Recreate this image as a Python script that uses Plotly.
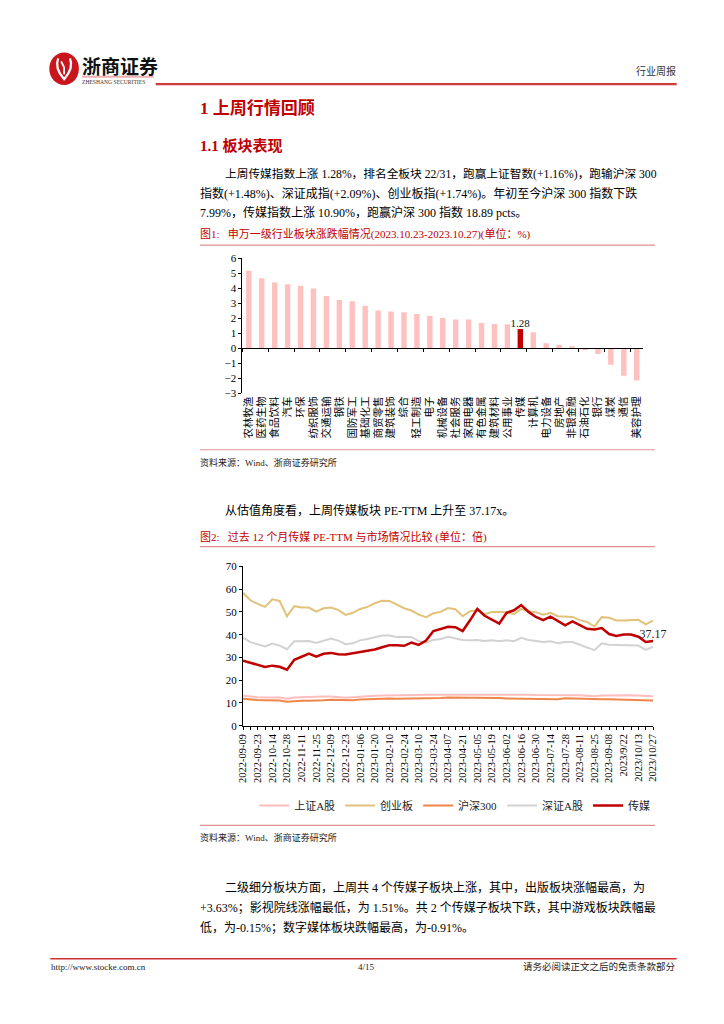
import plotly.graph_objects as go

W, H = 724, 1024
SERIF = "Liberation Serif, Noto Sans CJK SC"
CJK = "Noto Sans CJK SC"
RED = "#C00000"

# ---------------- Figure 1 data: SW level-1 industries weekly change (%) ----------------
industries = ["农林牧渔", "医药生物", "食品饮料", "汽车", "环保", "纺织服饰", "交通运输", "钢铁",
              "国防军工", "基础化工", "商贸零售", "建筑装饰", "综合", "轻工制造", "电子", "机械设备",
              "社会服务", "家用电器", "有色金属", "建筑材料", "公用事业", "传媒", "计算机", "电力设备",
              "房地产", "非银金融", "石油石化", "银行", "煤炭", "通信", "美容护理"]
changes = [5.15, 4.65, 4.37, 4.26, 4.15, 3.97, 3.47, 3.21, 3.12, 2.82, 2.51, 2.45, 2.40, 2.27,
           2.14, 2.01, 1.92, 1.92, 1.68, 1.62, 1.59, 1.28, 1.07, 0.33, 0.24, 0.13, -0.13, -0.38,
           -1.10, -1.83, -2.15]
highlight = "传媒"
bar_ticks = [-3, -2, -1, 0, 1, 2, 3, 4, 5, 6]

# ---------------- Figure 2 data: PE-TTM weekly ----------------
week_dates = ["2022-09-09", "2022-09-16", "2022-09-23", "2022-09-30", "2022-10-14", "2022-10-21",
              "2022-10-28", "2022-11-04", "2022-11-11", "2022-11-18", "2022-11-25", "2022-12-02",
              "2022-12-09", "2022-12-16", "2022-12-23", "2022-12-30", "2023-01-06", "2023-01-13",
              "2023-01-20", "2023-02-03", "2023-02-10", "2023-02-17", "2023-02-24", "2023-03-03",
              "2023-03-10", "2023-03-17", "2023-03-24", "2023-03-31", "2023-04-07", "2023-04-14",
              "2023-04-21", "2023-04-28", "2023-05-05", "2023-05-12", "2023-05-19", "2023-05-26",
              "2023-06-02", "2023-06-09", "2023-06-16", "2023-06-21", "2023-06-30", "2023-07-07",
              "2023-07-14", "2023-07-21", "2023-07-28", "2023-08-04", "2023-08-11", "2023-08-18",
              "2023-08-25", "2023-09-01", "2023-09-08", "2023-09-15", "2023/9/22", "2023/9/28",
              "2023/10/13", "2023/10/20", "2023/10/27"]
series_names = ["上证A股", "创业板", "沪深300", "深证A股", "传媒"]
pe_sh_a = [13.2, 12.8, 12.5, 12.4, 12.5, 12.4, 11.9, 12.4, 12.5, 12.5,
           12.6, 12.8, 12.9, 12.6, 12.3, 12.5, 12.8, 13.0, 13.2, 13.3,
           13.3, 13.2, 13.2, 13.4, 13.5, 13.6, 13.6, 13.7, 13.8, 13.8,
           13.8, 13.8, 13.9, 13.8, 13.7, 13.8, 13.6, 13.6, 13.7, 13.6,
           13.5, 13.5, 13.6, 13.3, 13.6, 13.6, 13.4, 13.2, 13.0, 13.3,
           13.4, 13.4, 13.5, 13.4, 13.3, 13.0, 13.0]
pe_cyb = [58.4, 55.1, 53.5, 52.2, 55.5, 54.8, 48.1, 52.5, 51.9, 51.9,
          50.1, 51.6, 51.9, 50.9, 48.7, 49.6, 51.3, 52.2, 53.8, 54.9,
          54.8, 53.3, 51.6, 50.6, 48.8, 47.7, 49.4, 50.0, 51.7, 51.2,
          48.1, 50.3, 50.7, 49.0, 50.0, 50.0, 49.9, 49.0, 51.3, 50.3,
          49.9, 48.8, 49.6, 48.1, 47.8, 47.8, 46.4, 45.6, 43.6, 47.7,
          47.4, 46.2, 46.2, 46.4, 46.5, 44.5, 46.2]
pe_hs300 = [11.9, 11.5, 11.3, 11.2, 11.2, 11.1, 10.5, 10.9, 11.0, 11.0,
            11.0, 11.2, 11.4, 11.3, 11.1, 11.2, 11.5, 11.7, 11.9, 12.0,
            12.0, 11.9, 11.9, 12.0, 12.1, 12.1, 12.1, 12.2, 12.4, 12.4,
            12.4, 12.4, 12.4, 12.3, 12.2, 12.2, 12.0, 12.0, 12.0, 12.0,
            11.9, 11.8, 11.9, 11.7, 12.1, 12.0, 11.8, 11.6, 11.4, 11.6,
            11.6, 11.5, 11.6, 11.5, 11.4, 11.1, 11.1]
pe_sz_a = [38.7, 36.7, 35.8, 34.8, 36.1, 35.2, 33.6, 37.1, 37.1, 37.2,
           36.4, 37.4, 38.3, 37.4, 35.8, 36.2, 37.5, 38.1, 39.0, 39.6,
           39.6, 39.0, 39.0, 39.0, 37.2, 36.5, 37.7, 38.1, 39.1, 38.4,
           37.7, 37.5, 37.7, 37.2, 37.5, 37.1, 37.5, 37.1, 38.6, 37.7,
           37.2, 36.8, 37.1, 36.2, 36.8, 36.8, 35.6, 34.5, 33.2, 36.2,
           35.6, 35.5, 35.5, 35.5, 35.2, 33.3, 34.7]
pe_media = [28.6, 27.7, 26.7, 25.8, 26.4, 25.9, 24.6, 29.0, 30.3, 31.7,
            30.3, 31.6, 32.0, 31.4, 31.3, 31.9, 32.6, 33.0, 33.5, 34.5,
            35.4, 35.4, 35.1, 36.5, 35.5, 37.4, 41.6, 42.5, 43.5, 43.3,
            41.6, 46.3, 51.3, 48.3, 46.7, 44.9, 49.6, 50.7, 53.0, 50.0,
            47.8, 46.4, 47.9, 46.1, 44.1, 45.8, 44.3, 42.6, 42.3, 42.9,
            40.3, 39.4, 40.1, 40.1, 39.1, 36.8, 37.17]
series_colors = ["#FFBDBD", "#E2C27A", "#F0854A", "#D2D2D2", "#C00000"]
series_widths = [2, 2, 2, 2, 2.5]
pe_ticks = [0, 10, 20, 30, 40, 50, 60, 70]


def px(x):
    return x / W


def py(y):
    return 1 - y / H


fig = go.Figure()

# ---- bar chart ----
bar_colors = [RED if c == highlight else "#FFC0C0" for c in industries]
bar_text = [f"{v:.2f}" if c == highlight else "" for c, v in zip(industries, changes)]
fig.add_trace(go.Bar(
    x=industries, y=changes, marker=dict(color=bar_colors, line=dict(width=0)),
    text=bar_text, textposition="outside", constraintext="none", cliponaxis=False,
    textfont=dict(family=SERIF, size=11, color="#111"),
    xaxis="x", yaxis="y", showlegend=False, hoverinfo="skip"))
# helper trace so the zero-line category axis (ticks between bars) is drawn
fig.add_trace(go.Scatter(
    x=industries, y=changes, mode="markers", marker=dict(opacity=0, size=1),
    xaxis="x2", yaxis="y", showlegend=False, hoverinfo="skip"))

# ---- PE line chart ----
all_series = [pe_sh_a, pe_cyb, pe_hs300, pe_sz_a, pe_media]
for name, vals, col, lw in zip(series_names, all_series, series_colors, series_widths):
    fig.add_trace(go.Scatter(
        x=week_dates, y=vals, mode="lines", name=name,
        line=dict(color=col, width=lw), xaxis="x3", yaxis="y3", hoverinfo="skip"))
fig.add_trace(go.Scatter(
    x=[week_dates[-1]], y=[pe_media[-1]], mode="text", text=[f"{pe_media[-1]:.2f}"],
    textposition="top center", textfont=dict(family=SERIF, size=12, color="#222"),
    cliponaxis=False, xaxis="x3", yaxis="y3", showlegend=False, hoverinfo="skip"))

bar_dom_y = [py(392), py(255)]
zero_pos = bar_dom_y[0] + (bar_dom_y[1] - bar_dom_y[0]) * (0 - bar_ticks[0]) / (bar_ticks[-1] - bar_ticks[0])
tick_font = dict(family=SERIF, size=11, color="#000")
date_ticktext = [d if i % 2 == 0 else "" for i, d in enumerate(week_dates)]

fig.update_layout(
    width=W, height=H, margin=dict(l=0, r=0, t=0, b=0),
    paper_bgcolor="white", plot_bgcolor="rgba(0,0,0,0)",
    bargap=0.58,
    xaxis=dict(domain=[px(240), px(647)], anchor="y", type="category",
               range=[-0.5, len(industries) - 0.5], tickmode="array",
               tickvals=industries, ticktext=industries, showline=False, ticks="",
               tickangle=-90, tickfont=dict(family=CJK, size=10.5, color="#000"),
               showgrid=False, zeroline=False),
    xaxis2=dict(overlaying="x", anchor="free", position=zero_pos, type="category",
                range=[-0.5, len(industries) - 0.5], showline=True, linecolor="#000",
                linewidth=1, ticks="outside", tickson="boundaries", ticklen=3,
                tickcolor="#000", showticklabels=False, showgrid=False, zeroline=False),
    yaxis=dict(domain=bar_dom_y, anchor="x", range=[bar_ticks[0], bar_ticks[-1]],
               tickvals=bar_ticks, showline=True, linecolor="#000", linewidth=1,
               ticks="outside", ticklen=3, tickcolor="#000", tickfont=tick_font,
               showgrid=False, zeroline=False),
    xaxis3=dict(domain=[px(240.7), px(657)], anchor="y3", type="category",
                range=[0, len(week_dates) - 1], tickmode="array", tickvals=week_dates,
                ticktext=date_ticktext, tickangle=-90, showline=True, linecolor="#000",
                linewidth=1, ticks="outside", ticklen=3, tickcolor="#000",
                tickfont=dict(family=SERIF, size=10.5, color="#000"), showgrid=False,
                zeroline=False),
    yaxis3=dict(domain=[py(728.3), py(567)], anchor="x3", range=[pe_ticks[0], pe_ticks[-1]],
                tickvals=pe_ticks, showline=True, linecolor="#000", linewidth=1,
                ticks="outside", ticklen=3, tickcolor="#000", tickfont=tick_font,
                showgrid=False, zeroline=False),
    legend=dict(orientation="h", x=px(252), y=py(809), xanchor="left", yanchor="middle",
                font=dict(family=SERIF, size=11, color="#222"), bgcolor="rgba(0,0,0,0)",
                itemwidth=30, tracegroupgap=0),
)

# ---------------- page decorations ----------------
shapes = []


def hline(x0, x1, y, color, width):
    shapes.append(dict(type="line", xref="paper", yref="paper", x0=px(x0), x1=px(x1),
                       y0=py(y), y1=py(y), line=dict(color=color, width=width)))


def ppath(points):
    s = ""
    for cmd, pts in points:
        s += cmd + " " + " ".join(f"{px(a):.5f},{py(b):.5f}" for a, b in pts) + " "
    return s.strip()


# logo
shapes.append(dict(type="circle", xref="paper", yref="paper", x0=px(44), x1=px(74),
                   y0=py(80), y1=py(47), fillcolor="#C9161D", line=dict(width=0)))
shapes.append(dict(type="path", xref="paper", yref="paper",
                   path=ppath([("M", [(53, 53)]), ("Q", [(49, 63), (59, 74)]),
                               ("Q", [(69, 63), (65, 53)])]),
                   line=dict(color="white", width=2.2)))
shapes.append(dict(type="path", xref="paper", yref="paper",
                   path=ppath([("M", [(56, 56)]), ("L", [(59, 62), (62, 56)]),
                               ("M", [(59, 62)]), ("L", [(59, 69)])]),
                   line=dict(color="white", width=1.8)))
hline(77, 150, 71.5, "#F2AFAF", 2)
hline(152, 681, 79, "#CD3B3B", 2.2)
hline(197, 659, 242, "#E09090", 1.2)
hline(197, 659, 449, "#E09090", 1.2)
hline(197, 659, 547, "#E09090", 1.2)
hline(197, 659, 829, "#E09090", 1.2)
hline(45, 681, 964, "#D03030", 1.6)

ann = []


def txt(x, y, s, size, color="#000", anchor="left", family=SERIF, bold=False):
    if bold:
        s = f"<b>{s}</b>"
    ann.append(dict(x=px(x), y=py(y), xref="paper", yref="paper", text=s, showarrow=False,
                    xanchor=anchor, yanchor="middle", borderpad=0,
                    font=dict(size=size, color=color, family=family)))


txt(76, 60, "浙商证券", 19, "#111", family=CJK, bold=True)
txt(76, 76.5, "ZHESHANG SECURITIES", 5.6, "#333")
txt(681, 66, "行业周报", 10, "#333", anchor="right")

txt(196, 104, "1 上周行情回顾", 17, RED, bold=True)
txt(196, 141, "1.1 板块表现", 15, RED, bold=True)

body = 12
txt(221, 170, "上周传媒指数上涨 1.28%，排名全板块 22/31，跑赢上证智数(+1.16%)，跑输沪深 300", 11.7)
txt(196, 190, "指数(+1.48%)、深证成指(+2.09%)、创业板指(+1.74%)。年初至今沪深 300 指数下跌", body)
txt(196, 209, "7.99%，传媒指数上涨 10.90%，跑赢沪深 300 指数 18.89 pcts。", body)

txt(196, 231, "图1:\u00a0\u00a0\u00a0申万一级行业板块涨跌幅情况(2023.10.23-2023.10.27)(单位：%)", 11, RED)
txt(196, 462, "资料来源：Wind、浙商证券研究所", 9, "#222")

txt(221, 510, "从估值角度看，上周传媒板块 PE-TTM 上升至 37.17x。", body)
txt(196, 537, "图2:\u00a0\u00a0\u00a0过去 12 个月传媒 PE-TTM 与市场情况比较 (单位：倍)", 11, RED)
txt(196, 841, "资料来源：Wind、浙商证券研究所", 9, "#222")

txt(221, 892, "二级细分板块方面，上周共 4 个传媒子板块上涨，其中，出版板块涨幅最高，为", body)
txt(196, 912, "+3.63%；影视院线涨幅最低，为 1.51%。共 2 个传媒子板块下跌，其中游戏板块跌幅最", body)
txt(196, 932, "低，为-0.15%；数字媒体板块跌幅最高，为-0.91%。", body)

txt(45, 972, "http://www.stocke.com.cn", 9, "#222")
txt(366, 972, "4/15", 9, "#222", anchor="center")
txt(681, 972, "请务必阅读正文之后的免责条款部分", 9.5, "#222", anchor="right")

fig.update_layout(shapes=shapes, annotations=ann)
fig.write_html("out.html", config={"displayModeBar": False},
               post_script="document.body.style.margin='0px';")
